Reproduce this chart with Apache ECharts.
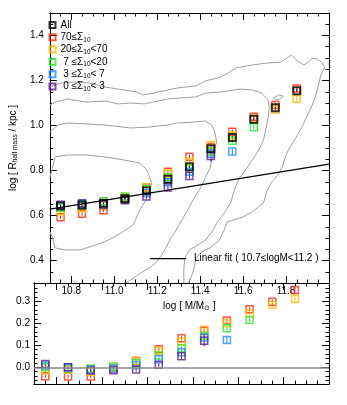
<!DOCTYPE html>
<html><head><meta charset="utf-8">
<script src="https://cdn.jsdelivr.net/npm/echarts@6/dist/echarts.min.js"></script>
<style>html,body{margin:0;padding:0;background:#fff}#c{width:347px;height:405px}</style>
</head><body><div id="c"></div>
<script>
// ---------- data ----------
const mass = [10.75, 10.85, 10.95, 11.05, 11.15, 11.25, 11.35, 11.45, 11.55, 11.65, 11.75, 11.85];

// top panel: log R_half mass
const allTop    = [0.642, 0.647, 0.654, 0.675, 0.710, 0.761, 0.817, 0.897, 0.947, 1.028, 1.079, 1.155];
const redTop    = [0.592, 0.608, 0.623, 0.678, 0.725, 0.795, 0.861, 0.905, 0.972, 1.039, 1.091, 1.164];
const yellowTop = [0.619, 0.632, 0.645, 0.680, 0.726, 0.787, 0.840, 0.913, 0.955, 1.030, 1.070, 1.118];
const greenTop  = [0.635, 0.645, 0.663, 0.685, 0.718, 0.770, 0.808, 0.885, 0.932, 0.992, null, null];
const blueTop   = [0.645, 0.650, 0.655, 0.672, 0.700, 0.748, 0.795, 0.875, 0.885, null, null, null];
const purpleTop = [0.648, 0.654, 0.647, 0.668, 0.685, 0.725, 0.776, 0.864, null, null, null, null];

// bottom panel: residuals from the linear fit
const redBot    = [-0.041, -0.042, -0.042, -0.004, 0.028, 0.082, 0.132, 0.165, 0.213, 0.264, 0.298, 0.351];
const yellowBot = [-0.015, -0.010, -0.020, -0.002, 0.029, 0.075, 0.117, 0.170, 0.200, 0.245, 0.283, 0.310];
const greenBot  = [0.000, -0.005, -0.005, 0.003, 0.020, 0.054, 0.087, 0.143, 0.177, 0.215, null, null];
const blueBot   = [0.008, 0.000, -0.010, -0.005, 0.010, 0.036, 0.068, 0.135, 0.124, null, null, null];
const purpleBot = [0.015, 0.000, -0.015, -0.014, -0.010, 0.012, 0.050, 0.120, null, null, null, null];

// error bars (half-length)
const allErr    = [0.005, 0.005, 0.005, 0.005, 0.005, 0.005, 0.006, 0.006, 0.007, 0.007, 0.008, 0.008];
const redErr    = [0.008, 0.008, 0.008, 0.008, 0.008, 0.008, 0.009, 0.009, 0.010, 0.010, 0.010, 0.011];
const yellowErr = [0.008, 0.008, 0.008, 0.008, 0.008, 0.008, 0.009, 0.009, 0.010, 0.010, 0.010, 0.012];
const greenErr  = [0.008, 0.008, 0.008, 0.008, 0.008, 0.008, 0.009, 0.010, 0.010, 0.010, null, null];
const blueErr   = [0.008, 0.008, 0.008, 0.008, 0.008, 0.009, 0.010, 0.011, 0.015, null, null, null];
const purpleErr = [0.008, 0.008, 0.008, 0.008, 0.009, 0.010, 0.012, 0.025, null, null, null, null];

// linear fit (10.7 <= logM < 11.2)
const fitX = [10.7, 12.0];
const fitY = [0.628, 0.828];

// gray density contours [logM, logR]
const contourA = [[10.700,1.170],[10.725,1.180],[10.756,1.189],[10.812,1.193],[10.887,1.189],[10.957,1.171],[11.018,1.162],[11.105,1.149],[11.131,1.136],[11.162,1.140],[11.206,1.149],[11.294,1.167],[11.381,1.176],[11.425,1.198],[11.498,1.216],[11.568,1.256],[11.643,1.269],[11.717,1.278],[11.774,1.282],[11.826,1.313],[11.852,1.287],[11.883,1.269],[11.905,1.282],[11.922,1.300],[11.944,1.296],[11.970,1.278],[11.979,1.256],[11.962,1.224],[11.949,1.171],[11.936,1.127],[11.918,1.082],[11.896,1.038],[11.874,0.993],[11.848,0.949],[11.818,0.904],[11.796,0.860],[11.783,0.816],[11.761,0.780],[11.730,0.744],[11.708,0.700],[11.695,0.656],[11.643,0.616],[11.599,0.593],[11.555,0.580],[11.525,0.571],[11.512,0.536],[11.490,0.491],[11.446,0.456],[11.407,0.438],[11.381,0.411],[11.372,0.367],[11.359,0.327],[11.346,0.300]];
const contourB = [[10.700,1.091],[10.725,1.104],[10.782,1.118],[10.869,1.104],[10.957,1.109],[11.018,1.096],[11.075,1.100],[11.140,1.096],[11.206,1.109],[11.249,1.118],[11.306,1.122],[11.381,1.127],[11.425,1.144],[11.498,1.149],[11.586,1.162],[11.643,1.158],[11.686,1.144],[11.717,1.113],[11.722,1.082],[11.717,1.038],[11.708,0.993],[11.695,0.936],[11.673,0.891],[11.643,0.847],[11.612,0.802],[11.586,0.771],[11.564,0.727],[11.555,0.700],[11.542,0.656],[11.512,0.611],[11.481,0.571],[11.455,0.527],[11.425,0.491],[11.381,0.464],[11.350,0.447],[11.328,0.411],[11.324,0.358],[11.324,0.300]];
const contourLoop = [[11.743,1.122],[11.765,1.136],[11.787,1.131],[11.774,1.118],[11.752,1.113],[11.743,1.122]];
const contourC = [[10.700,0.971],[10.738,1.002],[10.782,1.011],[10.869,1.007],[10.957,1.002],[11.075,0.989],[11.162,0.993],[11.249,1.002],[11.293,1.011],[11.381,1.016],[11.425,1.020],[11.455,1.002],[11.468,0.971],[11.477,0.927],[11.459,0.869],[11.446,0.811],[11.424,0.767],[11.402,0.722],[11.381,0.691],[11.367,0.669],[11.337,0.616],[11.302,0.558],[11.280,0.522],[11.258,0.491],[11.236,0.447],[11.193,0.389],[11.162,0.367],[11.131,0.349],[11.075,0.313],[11.053,0.300]];
const contourD = [[10.700,0.767],[10.712,0.811],[10.725,0.860],[10.782,0.869],[10.869,0.869],[10.957,0.860],[11.044,0.847],[11.119,0.833],[11.153,0.802],[11.175,0.744],[11.162,0.700],[11.140,0.656],[11.119,0.624],[11.088,0.558],[11.031,0.522],[10.974,0.491],[10.913,0.469],[10.843,0.447],[10.769,0.447],[10.725,0.456],[10.712,0.504],[10.700,0.527]];

// tick labels
const xMajor = [10.8, 11.0, 11.2, 11.4, 11.6, 11.8];
const yTopMajor = [0.4, 0.6, 0.8, 1.0, 1.2, 1.4];
const yBotMajor = [0.0, 0.1, 0.2, 0.3];

const legendNames = ['All', '70≤Σ10', '20≤Σ10<70', '7≤Σ10<20', '3≤Σ10<7', '0≤Σ10<3'];
const legendRich = {
  'All': 'All',
  '70≤Σ10': '70≤Σ{s|10}',
  '20≤Σ10<70': '20≤Σ{s|10}<70',
  '7≤Σ10<20': ' 7 ≤Σ{s|10}<20',
  '3≤Σ10<7': ' 3 ≤Σ{s|10}< 7',
  '0≤Σ10<3': ' 0 ≤Σ{s|10}< 3'
};
const fitName = 'Linear fit ( 10.7≤logM<11.2 )';

// ---------- styles ----------
const FONT = '"Liberation Sans", Arial, Helvetica, sans-serif';
const FS = 10;
const colors = ['#000000', '#ff2b12', '#ffbe00', '#2ee62e', '#1e8fff', '#5a1c91'];

function range(a, b, step) {
  const out = [];
  const n = Math.round((b - a) / step);
  for (let i = 0; i <= n; i++) out.push(Math.round((a + i * step) * 1000) / 1000);
  return out;
}
const xMinor = range(10.75, 11.95, 0.05);
const yTopMinor = range(0.35, 1.45, 0.05);
const yBotMinor = range(-0.06, 0.38, 0.02);

const XMIN = 10.7, XMAX = 12.0, YT0 = 0.3, YT1 = 1.5, YB0 = -0.076, YB1 = 0.383;

function axis(grid, pos, min, max, ticks, len, label, extra) {
  return Object.assign({
    type: 'value', gridIndex: grid, position: pos, min: min, max: max,
    axisLine: { show: true, onZero: false, lineStyle: { color: '#000', width: 1 } },
    splitLine: { show: false },
    axisTick: { show: true, inside: true, length: len, customValues: ticks, lineStyle: { color: '#000', width: 1 } },
    axisLabel: label ? Object.assign({ show: true, fontSize: FS, color: '#000', fontFamily: FONT }, label) : { show: false }
  }, extra || {});
}

const xAxes = [
  axis(0, 'bottom', XMIN, XMAX, xMajor, 7, { customValues: xMajor, formatter: v => v.toFixed(1), margin: 3 }, {
    name: 'log [ M/M{s|⊙} ]', nameLocation: 'middle', nameGap: 16,
    nameTextStyle: { fontSize: FS, color: '#000', fontFamily: FONT, rich: { s: { fontSize: 7, fontFamily: FONT, padding: [5, 0, 0, 0] } } }
  }),
  axis(0, 'bottom', XMIN, XMAX, xMinor, 3.5, null),
  axis(0, 'top', XMIN, XMAX, xMajor, 7, null),
  axis(0, 'top', XMIN, XMAX, xMinor, 3.5, null),
  axis(1, 'bottom', XMIN, XMAX, xMajor, 7, null),
  axis(1, 'bottom', XMIN, XMAX, xMinor, 3.5, null),
  axis(1, 'top', XMIN, XMAX, xMajor, 7, null),
  axis(1, 'top', XMIN, XMAX, xMinor, 3.5, null)
];
const yAxes = [
  axis(0, 'left', YT0, YT1, yTopMajor, 7, { customValues: yTopMajor, formatter: v => v.toFixed(1), margin: 6 }, {
    name: 'log [ R{s|half mass} / kpc ]', nameLocation: 'middle', nameGap: 19,
    nameTextStyle: { fontSize: FS, color: '#000', fontFamily: FONT, rich: { s: { fontSize: 6.5, fontFamily: FONT, padding: [5, 0, 0, 0] } } }
  }),
  axis(0, 'left', YT0, YT1, yTopMinor, 3.5, null),
  axis(0, 'right', YT0, YT1, yTopMajor, 7, null),
  axis(0, 'right', YT0, YT1, yTopMinor, 3.5, null),
  axis(1, 'left', YB0, YB1, yBotMajor, 7, { customValues: yBotMajor, formatter: v => v.toFixed(1), margin: 4 }),
  axis(1, 'left', YB0, YB1, yBotMinor, 3.5, null),
  axis(1, 'right', YB0, YB1, yBotMajor, 7, null),
  axis(1, 'right', YB0, YB1, yBotMinor, 3.5, null)
];

function pts(vals) {
  const out = [];
  vals.forEach((v, i) => { if (v !== null) out.push([mass[i], v]); });
  return out;
}
function errPts(vals, errs) {
  const out = [];
  vals.forEach((v, i) => { if (v !== null) out.push([mass[i], v, errs[i]]); });
  return out;
}
function errRender(color) {
  return function (params, api) {
    const x = api.value(0), y = api.value(1), e = api.value(2);
    const p1 = api.coord([x, y - e]), p2 = api.coord([x, y + e]);
    return { type: 'line', shape: { x1: p1[0], y1: p1[1], x2: p2[0], y2: p2[1] }, style: { stroke: color, lineWidth: 1 } };
  };
}

const series = [];
// contours
[contourA, contourB, contourLoop, contourC, contourD].forEach((c, i) => {
  series.push({
    name: 'contour' + i, type: 'line', xAxisIndex: 0, yAxisIndex: 0, data: c,
    symbol: 'none', silent: true, smooth: false, clip: true,
    lineStyle: { color: '#a0a0a0', width: 1 }, z: 1
  });
});
// zero line in lower panel
series.push({
  name: 'zero', type: 'line', xAxisIndex: 4, yAxisIndex: 4, data: [], symbol: 'none', silent: true,
  markLine: { symbol: 'none', silent: true, label: { show: false }, data: [{ yAxis: 0 }],
    lineStyle: { color: '#8a8a8a', width: 1.5, type: 'solid' } }, z: 1
});

const topSets = [allTop, redTop, yellowTop, greenTop, blueTop, purpleTop];
const botSets = [null, redBot, yellowBot, greenBot, blueBot, purpleBot];
const errSets = [allErr, redErr, yellowErr, greenErr, blueErr, purpleErr];
const drawOrder = [1, 2, 3, 4, 5, 0];

drawOrder.forEach(k => {
  const col = colors[k];
  const isAll = k === 0;
  const mStyle = { color: 'rgba(255,255,255,0)', borderColor: col, borderWidth: isAll ? 2 : 1.5 };
  series.push({
    name: 'err' + k, type: 'custom', xAxisIndex: 0, yAxisIndex: 0, silent: true,
    data: errPts(topSets[k], errSets[k]), encode: { x: 0, y: 1 }, renderItem: errRender(col), z: 3
  });
  series.push({
    name: legendNames[k], type: 'scatter', xAxisIndex: 0, yAxisIndex: 0,
    data: pts(topSets[k]), symbol: 'rect', symbolSize: 7, itemStyle: mStyle, z: 3
  });
  if (botSets[k]) {
    series.push({
      name: 'errb' + k, type: 'custom', xAxisIndex: 4, yAxisIndex: 4, silent: true,
      data: errPts(botSets[k], errSets[k]), encode: { x: 0, y: 1 }, renderItem: errRender(col), z: 3
    });
    series.push({
      name: legendNames[k], type: 'scatter', xAxisIndex: 4, yAxisIndex: 4,
      data: pts(botSets[k]), symbol: 'rect', symbolSize: 7, itemStyle: mStyle, z: 3
    });
  }
});
// fit line
series.push({
  name: fitName, type: 'line', xAxisIndex: 0, yAxisIndex: 0,
  data: fitX.map((x, i) => [x, fitY[i]]), symbol: 'none',
  itemStyle: { color: '#000' },
  lineStyle: { color: '#000', width: 1.3 }, z: 5
});

const option = {
  animation: false,
  textStyle: { fontFamily: FONT },
  grid: [
    { left: 34, top: 13, width: 295, height: 270 },
    { left: 34, top: 283, width: 295, height: 101 }
  ],
  xAxis: xAxes,
  yAxis: yAxes,
  legend: [
    {
      data: legendNames, orient: 'vertical', left: 48.5, top: 19, padding: 0,
      itemWidth: 6, itemHeight: 6, itemGap: 0.3, selectedMode: false,
      formatter: n => legendRich[n],
      textStyle: { fontSize: FS, color: '#000', fontFamily: FONT, lineHeight: 12,
        rich: { s: { fontSize: 6.5, fontFamily: FONT, lineHeight: 12, padding: [5, 0, 0, 0] } } }
    },
    {
      data: [{ name: fitName, icon: 'rect', itemStyle: { color: '#000', borderWidth: 0 } }],
      left: 150, top: 252.7, padding: 0, itemWidth: 36, itemHeight: 1.3,
      selectedMode: false,
      textStyle: { fontSize: FS, color: '#000', fontFamily: FONT, lineHeight: 12, padding: [0, 0, 0, 3] }
    }
  ],
  series: series
};

const chart = echarts.init(document.getElementById('c'), null, { renderer: 'canvas' });
chart.setOption(option);
</script>
</body></html>
